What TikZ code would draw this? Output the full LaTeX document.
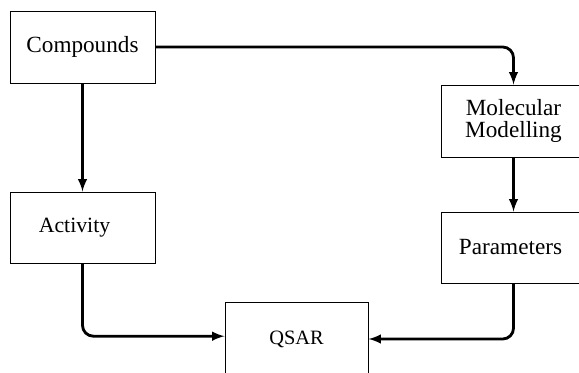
\documentclass[tikz,border=0pt]{standalone}
\usepackage{fontspec}
\setmainfont{Liberation Serif}
\usetikzlibrary{arrows}
\usetikzlibrary{math}

\tikzset{
  stagebox/.style={draw, line width=0.7pt, minimum width=3.625cm, minimum height=1.8cm, inner sep=0pt, align=center, font=\fontsize{16.5}{15.5}\selectfont},
  flow/.style={-latex, line width=2, rounded corners=0.27cm}
}

\begin{document}
\begin{tikzpicture}
\tikzmath{
\W=14.475;
\H=9.3;
\xl=2.0625;
\xr=12.8375;
}
\useasboundingbox (0,0) rectangle (\W,\H);

%the boxes:
\node[stagebox] (comp) at (\xl,8.125) {Compounds};
\node[stagebox, minimum height=1.775cm, font=\fontsize{15.5}{17}\selectfont] (act) at (\xl,3.6125) {\raisebox{-3pt}{Activity}\hspace{0.4cm}};
\node[stagebox] (mol) at (\xr,6.275) {Molecular\\Modelling};
\node[stagebox, minimum height=1.775cm] (par) at (\xr,3.1125) {\raisebox{-2pt}{Parameters}\hspace{0.15cm}};
\node[stagebox, minimum width=3.575cm, minimum height=1.85cm, font=\fontsize{14.5}{16}\selectfont] (qsar) at (7.4125,0.825) {QSAR};

%arrows:
\draw[flow] (comp.east) -| (mol.north);
\draw[flow] (comp.south) -- (act.north);
\draw[flow] (mol.south) -- (par.north);
\draw[flow] (act.south) |- ([yshift=2pt]qsar.west);
\draw[flow] (par.south) |- (qsar.east);
\end{tikzpicture}
\end{document}
